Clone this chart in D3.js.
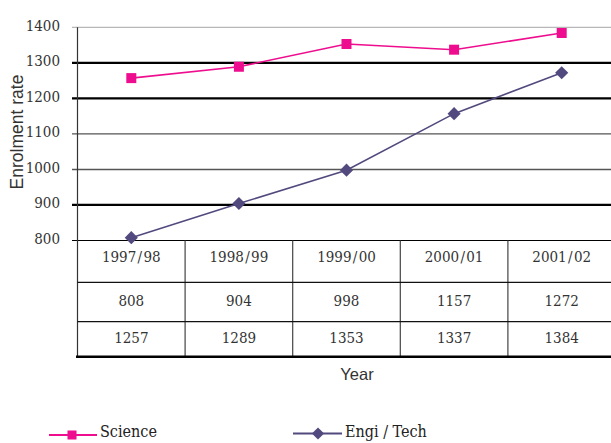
<!DOCTYPE html>
<html><head><meta charset="utf-8">
<script src="https://cdn.jsdelivr.net/npm/d3@7"></script>
<style>body{margin:0;background:#fff}svg{display:block}
.sf{font-family:"DejaVu Serif Condensed","DejaVu Serif",serif}
.ss{font-family:"Liberation Sans",Arial,sans-serif}</style>
</head><body>
<svg id="c" width="611" height="443"></svg>
<script>
const years = ["1997/98","1998/99","1999/00","2000/01","2001/02"];
const yearLabels = ["1997\u200a/\u200a98","1998\u200a/\u200a99","1999\u200a/\u200a00","2000\u200a/\u200a01","2001\u200a/\u200a02"];
const engiTech = [808, 904, 998, 1157, 1272];
const science = [1257, 1289, 1353, 1337, 1384];
const yTicks = [800, 900, 1000, 1100, 1200, 1300, 1400];

const svg = d3.select("#c");
const x = d3.scaleBand().domain(years).range([77.5, 615.5]);
const y = d3.scaleLinear().domain([800, 1400]).range([240.5, 27.3]);

// gridlines
const gridStyle = {1400:["#b8b8b8",1.2],1300:["#000",2.2],1200:["#000",2.2],1100:["#555",1.4],1000:["#555",1.4],900:["#000",2.2],800:["#000",1.2]};
svg.append("g").selectAll("line").data(yTicks).join("line")
  .attr("x1", 72).attr("x2", 611)
  .attr("y1", d => y(d)).attr("y2", d => y(d))
  .attr("stroke", d => gridStyle[d][0]).attr("stroke-width", d => gridStyle[d][1]);

// y axis line
svg.append("line").attr("x1", 77.5).attr("x2", 77.5).attr("y1", y(1400)).attr("y2", 357)
  .attr("stroke", "#333").attr("stroke-width", 1.2);

// tick labels
svg.append("g").selectAll("text").data(yTicks).join("text")
  .attr("class", "sf")
  .attr("x", 60).attr("y", d => y(d) - 2).attr("dy", "0.35em")
  .attr("text-anchor", "end").attr("font-size", 15)
  .attr("fill", "#333").text(d => d);

// y title
svg.append("text").attr("class", "ss").attr("transform", "translate(23,132) rotate(-90)")
  .attr("text-anchor", "middle").attr("font-size", 17.5)
  .attr("fill", "#333").text("Enrolment rate");

// table
const rowLines = [282.3, 321.7];
const tableTop = y(800), tableBottom = 356.7;
svg.append("g").selectAll("line").data(years.slice(1)).join("line")
  .attr("x1", d => x(d)).attr("x2", d => x(d)).attr("y1", tableTop).attr("y2", tableBottom)
  .attr("stroke", "#444").attr("stroke-width", 1.2);
svg.append("g").selectAll("line").data(rowLines).join("line")
  .attr("x1", 77.5).attr("x2", 611).attr("y1", d => d).attr("y2", d => d)
  .attr("stroke", "#111").attr("stroke-width", 1.2);
svg.append("line").attr("x1", 76).attr("x2", 611).attr("y1", tableBottom).attr("y2", tableBottom)
  .attr("stroke", "#000").attr("stroke-width", 2.4);

const rowsData = [[yearLabels, 256.5], [engiTech, 301], [science, 338]];
rowsData.forEach(([vals, cy]) => {
  svg.append("g").selectAll("text").data(vals).join("text")
    .attr("class", "sf")
    .attr("x", (d, i) => x(years[i]) + x.bandwidth() / 2).attr("y", cy).attr("dy", "0.35em")
    .attr("text-anchor", "middle").attr("font-size", 15)
    .attr("fill", "#333").text(d => d);
});

// x title
svg.append("text").attr("class", "ss").attr("x", 357).attr("y", 379.5).attr("text-anchor", "middle")
  .attr("font-size", 16.5).attr("fill", "#333").text("Year");

// lines
const pink = "#ee0d8e", purple = "#524a7e";
const cx = i => x(years[i]) + x.bandwidth() / 2;
const line = d3.line().x((d, i) => cx(i)).y(d => y(d));
svg.append("path").datum(science).attr("d", line).attr("fill", "none").attr("stroke", pink).attr("stroke-width", 1.6);
svg.append("path").datum(engiTech).attr("d", line).attr("fill", "none").attr("stroke", purple).attr("stroke-width", 1.6);

svg.append("g").selectAll("rect").data(science).join("rect")
  .attr("x", (d, i) => cx(i) - 5).attr("y", d => y(d) - 5).attr("width", 10).attr("height", 10)
  .attr("fill", pink);
const diamond = d3.symbol().type(d3.symbolDiamond2).size(110);
svg.append("g").selectAll("path").data(engiTech).join("path")
  .attr("transform", (d, i) => `translate(${cx(i)},${y(d)})`).attr("d", diamond).attr("fill", purple);

// legend
const lg = svg.append("g");
lg.append("line").attr("x1", 49).attr("x2", 97).attr("y1", 435).attr("y2", 435).attr("stroke", pink).attr("stroke-width", 2);
lg.append("rect").attr("x", 67.5).attr("y", 430.5).attr("width", 9).attr("height", 9).attr("fill", pink);
lg.append("text").attr("class", "sf").attr("x", 100).attr("y", 437).attr("font-size", 16)
  .attr("fill", "#222").text("Science");
lg.append("line").attr("x1", 293).attr("x2", 342).attr("y1", 433.5).attr("y2", 433.5).attr("stroke", purple).attr("stroke-width", 2);
lg.append("path").attr("transform", "translate(318,433.5)").attr("d", d3.symbol().type(d3.symbolDiamond2).size(95)).attr("fill", purple);
lg.append("text").attr("class", "sf").attr("x", 345).attr("y", 437).attr("font-size", 16)
  .attr("fill", "#222").text("Engi / Tech");
</script>
</body></html>
